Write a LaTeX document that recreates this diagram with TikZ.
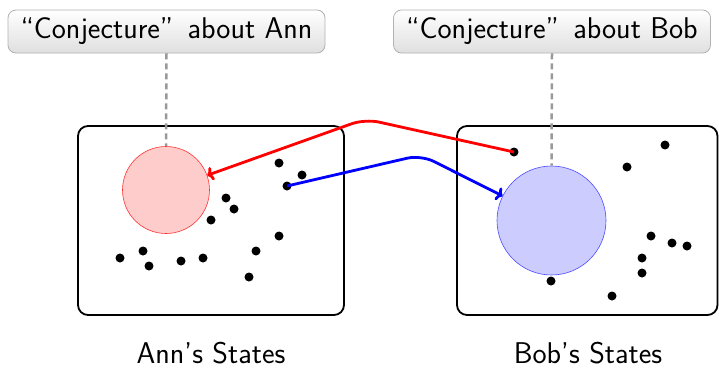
\documentclass[tikz,border=0pt]{standalone}
\usepackage{fontspec}
\usetikzlibrary{arrows.meta}
\begin{document}
\begin{tikzpicture}[x=1pt,y=-1pt,
  every node/.style={font=\sffamily\fontsize{30}{36}\selectfont},
  conj/.style={draw=gray!60, rounded corners=8pt, top color=white, bottom color=gray!25,
    minimum width=317pt, minimum height=43pt, inner sep=0pt, line width=0.8pt},
  statebox/.style={draw=black, line width=1.8pt, rounded corners=10pt, inner sep=0pt,
    minimum height=189pt},
  dot/.style={circle, fill=black, inner sep=0pt, minimum size=9pt},
  link/.style={gray!80, line width=2.5pt, dash pattern=on 6pt off 4pt},
  annset/.style={circle, draw=red!80, fill=red!20, line width=0.6pt, inner sep=0pt, minimum size=87pt},
  bobset/.style={circle, draw=blue!70, fill=blue!20, line width=0.6pt, inner sep=0pt, minimum size=109pt},
  guess/.style={line width=2.8pt, rounded corners=14pt, -{To[length=6pt,width=14pt]}},
  caption/.style={anchor=base, inner sep=0pt},
  ]
\useasboundingbox (0,0) rectangle (719,370);

% state spaces
\node[statebox, minimum width=266pt] (annbox) at (211,220.5) {};
\node[statebox, minimum width=260.5pt] (bobbox) at (587.25,220.5) {};

% conjecture labels
\node[conj] (annconj) at (166.5,31.5) {“Conjecture”\, about Ann};
\node[conj] (bobconj) at (552,31.5) {“Conjecture”\, about Bob};

% believed sets
\node[annset] (annc) at (166,190) {};
\node[bobset] (bobc) at (551.5,220.5) {};

\draw[link] (annconj.south) -- (annc.north);
\draw[link] (bobconj.south) -- (bobc.north);

% Ann's states
\foreach \n/\p in {a1/{(279,163)}, a2/{(302,175)}, a3/{(287,186)}, a4/{(226,198)},
  a5/{(234,209)}, a6/{(211,220)}, a7/{(279,236)}, a8/{(256,251)}, a9/{(249,277)},
  a10/{(120,258)}, a11/{(143,251)}, a12/{(149,266)}, a13/{(181,261)}, a14/{(203,258)}}
  \node[dot] (\n) at \p {};

% Bob's states
\foreach \n/\p in {b1/{(514,152)}, b2/{(665,145)}, b3/{(627,167)}, b4/{(651,236)},
  b5/{(672,243)}, b6/{(687,246)}, b7/{(642,258)}, b8/{(642,273)}, b9/{(551,281)},
  b10/{(612,296)}}
  \node[dot] (\n) at \p {};

% cross links
\coordinate (rpeak) at (365,119);
\coordinate (bpeak) at (421,155);
\draw[guess, red] (b1.center) -- (rpeak) -- (annc);
\draw[guess, blue] (a3.center) -- (bpeak) -- (bobc);

% captions
\node[caption] (annlab) at (211,363) {Ann's States};
\node[caption] (boblab) at (588,363) {Bob's States};
\end{tikzpicture}
\end{document}
